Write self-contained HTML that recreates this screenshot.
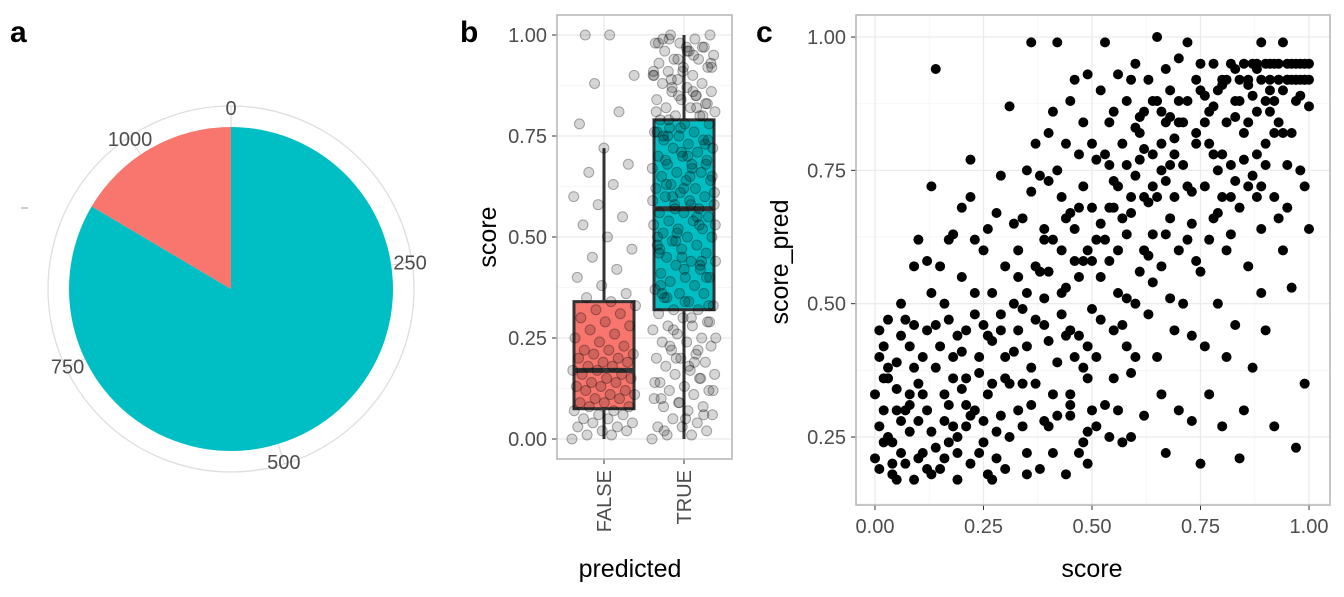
<!DOCTYPE html>
<html><head><meta charset="utf-8">
<style>
html,body{margin:0;padding:0;background:#fff;}
svg{display:block;font-family:"Liberation Sans",Arial,sans-serif;}
.tick{fill:#4d4d4d;font-size:20px;}
.title{fill:#000;font-size:25px;}
.tag{fill:#000;font-size:30px;font-weight:bold;}
</style></head>
<body>
<svg id="fig" width="1344" height="597" viewBox="0 0 1344 597">
<text class="tag" x="10" y="42">a</text>
<text class="tag" x="460" y="42">b</text>
<text class="tag" x="756" y="42">c</text>
<g id="pa"></g>
<g id="pb"></g>
<g id="pc"></g>
</svg>
<script>
// ---- Panel a data ----
const pieCategories = ["FALSE","TRUE"];
const pieCounts = [182, 922];
const pieColors = ["#F8766D","#00BFC4"];
const pieTicks = [0,250,500,750,1000];

// ---- Panel b data ----
const boxCategories = ["FALSE","TRUE"];
const boxLow = [0.0, 0.0];
const boxQ1 = [0.075, 0.32];
const boxMedian = [0.17, 0.57];
const boxQ3 = [0.34, 0.79];
const boxHigh = [0.72, 1.0];
const boxTicks = [0,0.25,0.5,0.75,1.0];
const boxTickLabels = ["0.00","0.25","0.50","0.75","1.00"];
const pointsFalse = [0.00,0.01,0.01,0.02,0.02,0.03,0.03,0.04,0.04,0.05,0.05,0.06,0.06,0.07,0.07,0.08,0.08,0.09,0.09,0.10,0.10,0.11,0.11,0.12,0.12,0.13,0.13,0.14,0.14,0.15,0.15,0.16,0.16,0.17,0.17,0.18,0.18,0.19,0.19,0.20,0.20,0.21,0.21,0.22,0.22,0.23,0.24,0.25,0.26,0.27,0.28,0.29,0.30,0.31,0.32,0.33,0.34,0.35,0.36,0.38,0.40,0.42,0.45,0.47,0.50,0.53,0.55,0.58,0.60,0.63,0.66,0.68,0.72,0.78,0.81,0.88,0.90,1.00,1.00];
const pointsTrue = [0.00,0.01,0.01,0.02,0.03,0.03,0.04,0.05,0.06,0.07,0.08,0.08,0.09,0.10,0.11,0.12,0.12,0.13,0.14,0.15,0.16,0.16,0.17,0.18,0.19,0.20,0.20,0.21,0.22,0.23,0.24,0.24,0.25,0.26,0.27,0.28,0.28,0.29,0.30,0.31,0.32,0.32,0.33,0.34,0.35,0.36,0.36,0.37,0.38,0.39,0.40,0.40,0.41,0.42,0.43,0.44,0.44,0.45,0.46,0.47,0.48,0.48,0.49,0.50,0.50,0.51,0.52,0.52,0.53,0.54,0.54,0.55,0.56,0.56,0.57,0.58,0.58,0.59,0.60,0.60,0.61,0.62,0.62,0.63,0.64,0.64,0.65,0.66,0.66,0.67,0.68,0.68,0.69,0.70,0.70,0.71,0.72,0.72,0.73,0.74,0.74,0.75,0.76,0.76,0.77,0.78,0.78,0.79,0.80,0.80,0.81,0.82,0.82,0.83,0.84,0.84,0.85,0.86,0.86,0.87,0.88,0.88,0.89,0.90,0.90,0.91,0.92,0.92,0.93,0.94,0.94,0.95,0.96,0.96,0.97,0.98,0.98,0.99,1.00,1.00,
0.05,0.10,0.15,0.20,0.25,0.30,0.35,0.40,0.45,0.50,0.55,0.60,0.65,0.70,0.75,0.80,0.85,0.90,0.95,0.99,
0.33,0.42,0.47,0.53,0.57,0.61,0.65,0.69,0.73,0.77,0.81,0.85,0.89,0.93,0.97,0.36,0.44,0.51,0.59,0.67,0.75,0.83,0.91,0.98,0.22,0.27,0.12,0.18,
0.02,0.06,0.09,0.14,0.19,0.23,0.29,0.34,0.38,0.43,0.49,0.53,0.58,0.63,0.68,0.71,0.76,0.82,0.87,0.92,0.96,0.99,0.97,0.94,0.91,0.86,0.79,0.74,0.62,0.46];

// ---- Panel c data ----
const scatterScore = [0.00,0.01,0.00,0.02,0.03,0.01,0.04,0.05,0.03,0.06,0.07,0.08,0.06,0.09,0.08,0.05,0.02,0.04,0.09,0.10,0.07,0.09,0.10,0.03,0.06,0.01,0.08,0.05,0.10,0.02,
0.11,0.12,0.13,0.14,0.13,0.12,0.14,0.15,0.16,0.17,0.18,0.17,0.19,0.20,0.19,0.21,0.22,0.21,0.23,0.22,0.24,0.25,0.24,0.26,0.27,0.26,0.28,0.27,0.29,0.30,0.29,0.28,0.15,0.16,0.18,0.20,0.23,0.25,0.11,0.13,0.17,0.19,0.21,0.23,0.25,0.27,0.29,0.30,0.12,0.14,0.16,0.18,0.20,0.22,0.26,0.30,
0.31,0.32,0.33,0.34,0.35,0.36,0.35,0.37,0.38,0.37,0.39,0.40,0.40,0.41,0.42,0.42,0.43,0.44,0.44,0.45,0.45,0.46,0.47,0.47,0.48,0.48,0.49,0.49,0.50,0.50,0.32,0.33,0.34,0.36,0.38,0.39,0.41,0.43,0.44,0.46,0.47,0.48,0.49,0.31,0.35,0.37,0.40,0.42,0.45,0.46,0.48,0.50,0.33,0.36,0.39,0.41,0.43,0.45,0.47,0.49,
0.51,0.51,0.52,0.52,0.53,0.53,0.54,0.54,0.55,0.55,0.56,0.56,0.57,0.57,0.58,0.58,0.59,0.59,0.60,0.60,0.61,0.61,0.62,0.62,0.63,0.63,0.64,0.64,0.65,0.65,0.66,0.66,0.67,0.67,0.68,0.68,0.69,0.69,0.70,0.70,0.52,0.53,0.55,0.56,0.57,0.58,0.59,0.60,0.61,0.62,0.63,0.64,0.65,0.66,0.67,0.68,0.69,0.70,0.54,0.56,0.58,0.60,0.62,0.64,0.66,0.68,0.70,0.51,0.59,0.67,
0.71,0.71,0.72,0.72,0.73,0.73,0.74,0.74,0.75,0.75,0.76,0.76,0.77,0.77,0.78,0.78,0.79,0.79,0.80,0.80,0.81,0.81,0.82,0.82,0.83,0.83,0.84,0.84,0.85,0.85,0.86,0.86,0.87,0.87,0.88,0.88,0.89,0.89,0.90,0.90,0.91,0.91,0.92,0.92,0.93,0.93,0.94,0.94,0.95,0.95,0.96,0.96,0.97,0.97,0.98,0.98,0.99,0.99,1.00,1.00,0.72,0.74,0.76,0.78,0.80,0.82,0.84,0.86,0.88,0.90,0.92,0.94,0.96,0.98,1.00,0.97,0.95,0.92,0.90,0.87,0.73,0.77,0.81,0.85,0.89,0.93,0.99,0.75,0.79,0.83,
0.02,0.04,0.06,0.08,0.10,0.12,0.14,0.16,0.18,0.20,0.22,0.24,0.26,0.28,0.30,0.03,0.07,0.11,0.15,0.19,0.23,0.27,0.05,0.09,0.13,0.17,0.21,0.25,0.29,0.01,
0.31,0.33,0.35,0.37,0.39,0.41,0.43,0.45,0.47,0.49,0.51,0.53,0.55,0.57,0.59,0.32,0.34,0.36,0.38,0.40,0.42,0.44,0.46,0.48,0.50,0.52,0.54,0.56,0.58,0.60,0.35,0.40,0.45,0.50,0.55,0.34,0.39,0.44,0.49,0.54,
0.61,0.63,0.65,0.67,0.69,0.71,0.73,0.75,0.77,0.79,0.81,0.83,0.85,0.87,0.89,0.91,0.93,0.95,0.97,0.99,0.62,0.66,0.70,0.74,0.78,0.82,0.86,0.90,0.94,0.98,0.64,0.68,0.72,0.76,0.80,0.84,0.88,0.92,0.96,1.00,0.80,0.83,0.86,0.89,0.91,0.93,0.95,0.97,0.99,0.88];
const scatterPred = [0.21,0.27,0.33,0.42,0.47,0.19,0.24,0.30,0.36,0.44,0.20,0.26,0.50,0.17,0.33,0.39,0.30,0.18,0.38,0.28,0.47,0.57,0.62,0.25,0.22,0.45,0.42,0.17,0.21,0.36,
0.33,0.45,0.26,0.94,0.72,0.58,0.38,0.19,0.50,0.31,0.63,0.24,0.44,0.55,0.17,0.36,0.70,0.27,0.48,0.77,0.22,0.60,0.40,0.33,0.52,0.18,0.67,0.43,0.29,0.57,0.74,0.21,0.57,0.28,0.40,0.34,0.30,0.24,0.22,0.52,0.62,0.25,0.45,0.62,0.46,0.35,0.48,0.40,0.30,0.46,0.21,0.36,0.68,0.20,0.64,0.19,
0.87,0.50,0.30,0.66,0.42,0.99,0.22,0.57,0.74,0.35,0.46,0.82,0.27,0.62,0.99,0.39,0.70,0.18,0.53,0.88,0.31,0.64,0.44,0.78,0.24,0.58,0.93,0.36,0.68,0.49,0.41,0.60,0.27,0.71,0.19,0.64,0.33,0.48,0.80,0.40,0.22,0.72,0.60,0.35,0.52,0.80,0.56,0.75,0.45,0.92,0.84,0.30,0.45,0.38,0.28,0.86,0.60,0.67,0.55,0.26,
0.77,0.40,0.90,0.55,0.99,0.31,0.68,0.84,0.45,0.73,0.93,0.60,0.24,0.80,0.51,0.88,0.67,0.37,0.95,0.74,0.56,0.85,0.29,0.70,0.92,0.48,0.78,0.63,1.00,0.40,0.86,0.57,0.73,0.22,0.90,0.66,0.81,0.45,0.96,0.60,0.65,0.78,0.86,0.30,0.66,0.42,0.92,0.50,0.77,0.86,0.59,0.88,0.70,0.33,0.94,0.51,0.70,0.84,0.58,0.72,0.76,0.83,0.79,0.54,0.80,0.76,0.30,0.62,0.25,0.84,
0.76,0.50,0.99,0.88,0.65,0.28,0.92,0.80,0.56,0.95,0.72,0.42,0.86,0.62,0.95,0.78,0.50,0.90,0.70,0.27,0.84,0.60,0.95,0.76,0.46,0.88,0.68,0.21,0.95,0.82,0.57,0.91,0.74,0.38,0.95,0.86,0.64,0.99,0.80,0.45,0.95,0.90,0.70,0.27,0.95,0.84,0.60,0.99,0.92,0.76,0.95,0.53,0.88,0.23,0.95,0.75,0.95,0.35,0.87,0.64,0.72,0.58,0.84,0.66,0.91,0.63,0.88,0.72,0.78,0.88,0.82,0.90,0.82,0.89,0.95,0.95,0.95,0.95,0.95,0.95,0.44,0.33,0.40,0.30,0.52,0.66,0.72,0.20,0.75,0.73,
0.24,0.20,0.28,0.31,0.35,0.19,0.23,0.33,0.27,0.41,0.29,0.37,0.44,0.26,0.36,0.38,0.30,0.40,0.42,0.22,0.52,0.17,0.34,0.46,0.18,0.47,0.31,0.28,0.45,0.40,
0.25,0.55,0.18,0.47,0.62,0.22,0.52,0.33,0.68,0.42,0.27,0.62,0.36,0.46,0.70,0.65,0.49,0.31,0.56,0.73,0.29,0.44,0.58,0.38,0.80,0.47,0.25,0.52,0.63,0.40,0.75,0.43,0.29,0.58,0.68,0.35,0.51,0.66,0.20,0.76,
0.82,0.69,0.88,0.63,0.78,0.84,0.71,0.90,0.80,0.67,0.92,0.85,0.77,0.89,0.72,0.86,0.92,0.68,0.92,0.92,0.60,0.75,0.88,0.82,0.87,0.70,0.84,0.76,0.82,0.92,0.72,0.85,0.62,0.89,0.78,0.92,0.70,0.88,0.92,0.92,0.92,0.94,0.92,0.92,0.92,0.92,0.92,0.92,0.92,0.94];
const scatterTicks = [0,0.25,0.5,0.75,1.0];
const scatterTickLabels = ["0.00","0.25","0.50","0.75","1.00"];

const NS = "http://www.w3.org/2000/svg";
function mk(parent, tag, attrs, name){
  const e = document.createElementNS(NS, tag);
  for (const k in attrs) e.setAttribute(k, attrs[k]);
  
  
  parent.appendChild(e);
  return e;
}

// ---- Panel a: pie ----
(function(){
  const g = document.getElementById('pa');
  const cx = 231, cy = 289, R = 162, RG = 183;
  const total = pieCounts.reduce((a,b)=>a+b,0);
  const ang = v => v/total*2*Math.PI;
  const pt = (a,r) => [cx + r*Math.sin(a), cy - r*Math.cos(a)];
  mk(g,'circle',{cx:cx,cy:cy,r:RG,fill:'none',stroke:'#dedede','stroke-width':1.3},'pie-grid-circle');
  pieTicks.forEach(t=>{
    const a = ang(t); const p1 = pt(a,R), p2 = pt(a,RG);
    mk(g,'line',{x1:p1[0],y1:p1[1],x2:p2[0],y2:p2[1],stroke:'#dedede','stroke-width':1.3},'pie-grid-spoke');
  });
  let start = 0;
  [1,0].forEach(i=>{
    const a0 = ang(start), a1 = ang(start+pieCounts[i]);
    const p0 = pt(a0,R), p1 = pt(a1,R);
    const large = (a1-a0) > Math.PI ? 1 : 0;
    mk(g,'path',{d:`M${cx},${cy} L${p0[0]},${p0[1]} A${R},${R} 0 ${large} 1 ${p1[0]},${p1[1]} Z`,fill:pieColors[i]},'pie-slice-'+pieCategories[i].toLowerCase());
    start += pieCounts[i];
  });
  pieTicks.forEach(t=>{
    const p = pt(ang(t),181);
    const tx = mk(g,'text',{x:p[0],y:p[1]+7,'text-anchor':'middle',class:'tick'},'pie-tick-label');
    tx.textContent = t;
  });
  mk(g,'line',{x1:21,y1:208,x2:28,y2:208,stroke:'#999','stroke-width':1},'pie-y-tick');
})();

// ---- Panel b: boxplot ----
(function(){
  const g = document.getElementById('pb');
  const L=557,R=732,T=15,B=459;
  const y = v => 439 - v*404;
  const xc = [604,684];
  mk(g,'rect',{x:L,y:T,width:R-L,height:B-T,fill:'#fff'},'boxplot-background');
  boxTicks.forEach((t,i)=>{
    mk(g,'line',{x1:L,x2:R,y1:y(t),y2:y(t),stroke:'#ebebeb','stroke-width':1.3},'y-gridline');
    if(i<boxTicks.length-1) mk(g,'line',{x1:L,x2:R,y1:y(t+0.125),y2:y(t+0.125),stroke:'#f5f5f5','stroke-width':0.7},'y-minor-gridline');
    mk(g,'line',{x1:L-5,x2:L,y1:y(t),y2:y(t),stroke:'#333','stroke-width':1},'y-tick');
    const tx = mk(g,'text',{x:L-10,y:y(t)+7,'text-anchor':'end',class:'tick'},'y-tick-label');
    tx.textContent = boxTickLabels[i];
  });
  xc.forEach((x,i)=>{
    mk(g,'line',{x1:x,x2:x,y1:T,y2:B,stroke:'#ebebeb','stroke-width':1.3},'x-gridline');
    mk(g,'line',{x1:x,x2:x,y1:B,y2:B+5,stroke:'#333','stroke-width':1},'x-tick');
    const tx = mk(g,'text',{x:0,y:0,'text-anchor':'end',class:'tick',transform:`translate(${x+7},${B+11}) rotate(-90)`},'x-tick-label');
    tx.textContent = boxCategories[i];
  });
  const hw = 30;
  for(let i=0;i<2;i++){
    mk(g,'line',{x1:xc[i],x2:xc[i],y1:y(boxHigh[i]),y2:y(boxLow[i]),stroke:'#333','stroke-width':3},'whisker');
    mk(g,'rect',{x:xc[i]-hw,y:y(boxQ3[i]),width:2*hw,height:y(boxQ1[i])-y(boxQ3[i]),fill:pieColors[i],stroke:'#333','stroke-width':3},'box-'+boxCategories[i].toLowerCase());
    mk(g,'line',{x1:xc[i]-hw,x2:xc[i]+hw,y1:y(boxMedian[i]),y2:y(boxMedian[i]),stroke:'#333','stroke-width':5},'median-line');
  }
  [pointsFalse,pointsTrue].forEach((arr,ci)=>{
    arr.forEach((v,j)=>{
      const off = (((j*0.6180339)%1)-0.5)*64;
      mk(g,'circle',{cx:xc[ci]+off,cy:y(v),r:5,fill:'rgba(0,0,0,0.16)',stroke:'rgba(0,0,0,0.32)','stroke-width':1},'jitter-point');
    });
  });
  mk(g,'rect',{x:L,y:T,width:R-L,height:B-T,fill:'none',stroke:'#b3b3b3','stroke-width':1.5},'boxplot-border');
  const yt = mk(g,'text',{x:0,y:0,'text-anchor':'middle',class:'title',transform:'translate(496,237) rotate(-90)'},'y-axis-title');
  yt.textContent='score';
  const xt = mk(g,'text',{x:630,y:577,'text-anchor':'middle',class:'title'},'x-axis-title');
  xt.textContent='predicted';
})();

// ---- Panel c: scatter ----
(function(){
  const g = document.getElementById('pc');
  const L=856,R=1330,T=15,B=505;
  const x = v => 875 + v*434;
  const y = v => 437 - (v-0.25)*533.3;
  scatterTicks.forEach((t,i)=>{
    if(i<scatterTicks.length-1){
      mk(g,'line',{x1:L,x2:R,y1:y(t+0.125),y2:y(t+0.125),stroke:'#f3f3f3','stroke-width':0.7},'y-minor-gridline');
      mk(g,'line',{x1:x(t+0.125),x2:x(t+0.125),y1:T,y2:B,stroke:'#f3f3f3','stroke-width':0.7},'x-minor-gridline');
    }
  });
  scatterTicks.forEach((t,i)=>{
    mk(g,'line',{x1:x(t),x2:x(t),y1:T,y2:B,stroke:'#ebebeb','stroke-width':1.3},'x-gridline');
    mk(g,'line',{x1:x(t),x2:x(t),y1:B,y2:B+5,stroke:'#333','stroke-width':1},'x-tick');
    const tx = mk(g,'text',{x:x(t),y:B+28,'text-anchor':'middle',class:'tick'},'x-tick-label');
    tx.textContent = scatterTickLabels[i];
    if(t>=0.25){
      mk(g,'line',{x1:L,x2:R,y1:y(t),y2:y(t),stroke:'#ebebeb','stroke-width':1.3},'y-gridline');
      mk(g,'line',{x1:L-5,x2:L,y1:y(t),y2:y(t),stroke:'#333','stroke-width':1},'y-tick');
      const ty = mk(g,'text',{x:L-10,y:y(t)+7,'text-anchor':'end',class:'tick'},'y-tick-label');
      ty.textContent = scatterTickLabels[i];
    }
  });
  scatterScore.forEach((s,i)=>{
    mk(g,'circle',{cx:x(s),cy:y(scatterPred[i]),r:5,fill:'#000'},'scatter-point');
  });
  mk(g,'rect',{x:L,y:T,width:R-L,height:B-T,fill:'none',stroke:'#b3b3b3','stroke-width':1.5},'scatter-border');
  const yt = mk(g,'text',{x:0,y:0,'text-anchor':'middle',class:'title',transform:'translate(788,262) rotate(-90)'},'y-axis-title');
  yt.textContent='score_pred';
  const xt = mk(g,'text',{x:1092,y:577,'text-anchor':'middle',class:'title'},'x-axis-title');
  xt.textContent='score';
})();
</script>
</body></html>
